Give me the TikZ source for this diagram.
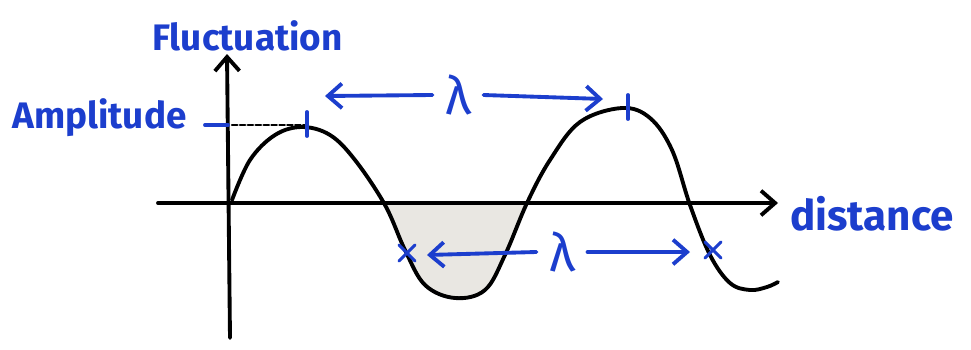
\documentclass[tikz,border=0pt]{standalone}
\usepackage{fontspec}
\setmainfont{Fira Sans}
\usetikzlibrary{arrows.meta, positioning}
\definecolor{penblue}{RGB}{28, 62, 205}
\definecolor{troughgray}{RGB}{233, 231, 226}

\begin{document}
\begin{tikzpicture}[
  x=0.02cm, y=-0.02cm,
  ink/.style={black, line width=2.2pt, line cap=round, line join=round},
  pen/.style={penblue, line width=2.2pt, line cap=round},
  barb/.style={-{Straight Barb[length=8pt, width=14pt, line width=2.2pt]}},
  lbl/.style={text=penblue, font=\fontsize{21}{24}\selectfont\mdseries, inner sep=0pt, anchor=base west},
  lam/.style={text=penblue, font=\fontsize{30}{30}\selectfont, inner sep=7pt}
]
  \useasboundingbox (0,0) rectangle (971,349);

  \fill[troughgray] plot[smooth] coordinates {(385,203) (405,250) (425,285) (455,298) (485,290) (505,255) (527,203)} -- cycle;

  \coordinate (ybot) at (230,338);
  \coordinate (ytop) at (227,54);
  \coordinate (xleft) at (158,203);
  \coordinate (xright) at (778,203);
  \draw[ink, barb] (ybot) -- (ytop);
  \draw[ink, barb] (xleft) -- (xright);

  \node[lbl] (fluct) at (152,50) {\textbf{Fluctuation}};
  \node[lbl] (amp) at (12,128) {\textbf{Amplitude}};
  \node[lbl, font=\fontsize{24}{26}\selectfont] (dist) at (790,230) {\textbf{distance}};

  \draw[ink] plot[smooth, tension=0.6] coordinates {(232,200) (250,160) (275,135) (302,127) (330,135) (355,160) (385,205) (405,250) (425,285) (455,298) (485,290) (505,255) (527,203) (550,160) (580,122) (622,108) (650,118) (672,150) (690,205) (710,255) (730,283) (750,290) (767,287) (778,282)};

  \coordinate (peak1) at (305,125);
  \coordinate (peak2) at (627,106);
  \draw[pen] (205,125) -- (228,125);
  \draw[ink, line width=1.4pt, dash pattern=on 3pt off 1.5pt] (232,125) -- (peak1);
  \draw[pen] (307,112) -- (307,136);
  \draw[pen] (628,95) -- (628,119);

  \node[lam] (lamtop) at (458,95) {λ};
  \coordinate (topleft) at (325,96);
  \coordinate (topright) at (603,99);
  \draw[pen, barb] (lamtop.west) -- (topleft);
  \draw[pen, barb] (lamtop.east) -- (topright);

  \coordinate (cross1) at (407,253);
  \coordinate (cross2) at (713,250);
  \draw[pen, line width=1.8pt] (399,245) -- (415,261) (399,261) -- (415,245);
  \draw[pen, line width=1.8pt] (705,242) -- (721,258) (705,258) -- (721,242);

  \node[lam] (lambot) at (562,252) {λ};
  \coordinate (botleft) at (427,255);
  \coordinate (botright) at (690,252);
  \draw[pen, barb] (lambot.west) -- (botleft);
  \draw[pen, barb] (lambot.east) -- (botright);
\end{tikzpicture}
\end{document}
